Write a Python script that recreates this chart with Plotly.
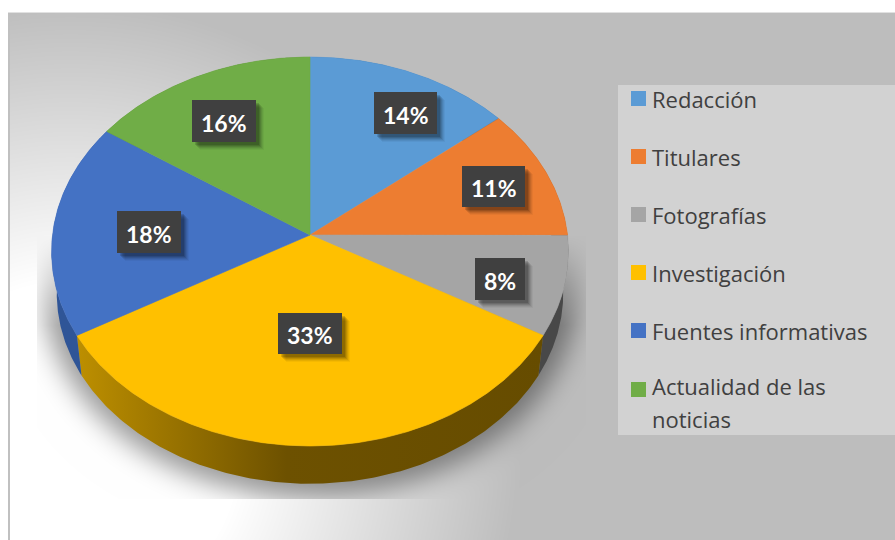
import base64, struct, zlib
import numpy as np
import plotly.graph_objects as go

# ---------- data ----------
categories = ["Redacción", "Titulares", "Fotografías", "Investigación",
              "Fuentes informativas", "Actualidad de las<br>noticias"]
shares = [14.0, 11.0, 8.3, 33.4, 17.8, 15.5]
top_colors = ["#5b9bd5", "#ed7d31", "#a5a5a5", "#ffc000", "#4472c4", "#70ad47"]
side_stops = [
    [[0, "#2f6a9c"], [1, "#2f6a9c"]],
    [[0, "#9a4f1c"], [1, "#9a4f1c"]],
    [[0, "#484848"], [1, "#484848"]],
    [[0, "#bd8f00"], [0.45, "#6d5100"], [1, "#664c00"]],
    [[0, "#2f5597"], [1, "#2f5597"]],
    [[0, "#4c7530"], [1, "#4c7530"]],
]

# ---------- layout constants (pixel coordinates of the 895x540 canvas) ----------
W, H = 895, 540
CX, CY = 310, 235
RX, RY, K = 257.5, 193.1, 0.0848
DEPTH, REAR_SCALE = 42, 0.98
label_centers = [(405.5, 113), (493.5, 186.5), (500, 279), (310, 333.5), (149, 232), (224, 121)]
label_sizes = [(63, 42), (63, 41), (50, 42), (64, 41), (64, 42), (64, 42)]
legend_rows = [98.5, 156.5, 214.5, 272.5, 330.5, 389.5]
legend_text_rows = [99, 156.5, 214.5, 272.5, 330.5, 386]
LINE_STEP = 33
LEG_FONT = 22


def project(theta):
    """Clockwise angle from 12 o'clock -> pixel position on the tilted disc."""
    sx, cy = np.sin(theta), np.cos(theta)
    w = 1 + K * cy
    return CX + RX * sx / w, CY - RY * cy / w


# ---------- background bitmap (gradient + soft shadow) ----------
def blur(a, sigma):
    r = int(3 * sigma)
    k = np.exp(-0.5 * (np.arange(-r, r + 1) / sigma) ** 2)
    k /= k.sum()
    a = np.apply_along_axis(lambda m: np.convolve(m, k, mode="same"), 0, a)
    return np.apply_along_axis(lambda m: np.convolve(m, k, mode="same"), 1, a)


yy, xx = np.mgrid[0:H, 0:W].astype(float)
dist = np.hypot(xx - 70, yy - 450)
t = np.clip((dist - 170) / 280, 0, 1)
bg = 255 - t * (255 - 189)
sil = (((xx - 310) / 268) ** 2 + ((yy - 285) / 212) ** 2 <= 1).astype(float)
shadow = blur(sil, 13) * 0.40
shadow *= np.clip((yy - 235) / 90, 0, 1)
shadow[(xx < 37) | (xx > 585) | (yy > 498)] = 0
bg = bg * (1 - shadow)
bg[:12, :] = 255
bg[:, :8] = 255
bg[12:, 8:10] = 192
bg[12:13, 8:] = 225
gray = bg.astype(np.uint8)


def png_uri(a):
    def chunk(tag, data):
        body = tag + data
        return struct.pack(">I", len(data)) + body + struct.pack(">I", zlib.crc32(body))
    raw = b"".join(b"\x00" + a[i].tobytes() for i in range(a.shape[0]))
    png = (b"\x89PNG\r\n\x1a\n"
           + chunk(b"IHDR", struct.pack(">IIBBBBB", a.shape[1], a.shape[0], 8, 0, 0, 0, 0))
           + chunk(b"IDAT", zlib.compress(raw, 9))
           + chunk(b"IEND", b""))
    return "data:image/png;base64," + base64.b64encode(png).decode()


# ---------- figure ----------
fig = go.Figure()
total = sum(shares)
edges = np.cumsum([0] + shares) / total * 2 * np.pi

# side wall
for i, stops in enumerate(side_stops):
    th = np.linspace(edges[i], edges[i + 1], 160)
    x, y = project(th)
    xb = CX + (x - CX) * REAR_SCALE
    yb = CY + (y - CY) * REAR_SCALE + DEPTH
    kw = dict(fillgradient=dict(type="horizontal", colorscale=stops)) if len(stops) > 2 else dict(fillcolor=stops[0][1])
    fig.add_trace(go.Scatter(x=np.r_[x, xb[::-1]], y=np.r_[y, yb[::-1]], mode="lines", fill="toself",
                             line=dict(width=0), hoverinfo="skip", showlegend=False, **kw))

# top face
for i, color in enumerate(top_colors):
    th = np.linspace(edges[i], edges[i + 1], 240)
    x, y = project(th)
    fig.add_trace(go.Scatter(x=np.r_[CX, x, CX], y=np.r_[CY, y, CY], mode="lines", fill="toself",
                             fillcolor=color, line=dict(width=0.6, color=color),
                             name=categories[i].replace("<br>", " "),
                             hovertemplate="%{fullData.name}<extra></extra>", showlegend=False))

# legend swatches
fig.add_trace(go.Scatter(x=[638.5] * len(categories), y=legend_rows, mode="markers",
                         marker=dict(symbol="square", size=15, color=top_colors, line=dict(width=0)),
                         hoverinfo="skip", showlegend=False))

shapes = [dict(type="rect", xref="x", yref="y", x0=618, x1=895, y0=85, y1=435,
               fillcolor="#d2d2d2", line=dict(width=0), layer="below")]
annotations = []

for name, row in zip(categories, legend_text_rows):
    for j, line in enumerate(name.split("<br>")):
        annotations.append(dict(x=650, y=row + j * LINE_STEP, xref="x", yref="y", text=line, showarrow=False,
                                xanchor="left", yanchor="middle", align="left",
                                font=dict(family="Open Sans", size=LEG_FONT, color="#404040")))

for v, (cx, cy), (bw, bh) in zip(shares, label_centers, label_sizes):
    for off, op in ((8, 0.04), (7, 0.06), (6, 0.08), (5, 0.10), (4, 0.12), (3, 0.14)):
        shapes.append(dict(type="rect", xref="x", yref="y", layer="above", line=dict(width=0),
                           x0=cx - bw / 2 + off, x1=cx + bw / 2 + off,
                           y0=cy - bh / 2 + off, y1=cy + bh / 2 + off,
                           fillcolor="black", opacity=op))
    shapes.append(dict(type="rect", xref="x", yref="y", layer="above", line=dict(width=0),
                       x0=cx - bw / 2, x1=cx + bw / 2, y0=cy - bh / 2, y1=cy + bh / 2, fillcolor="#404040"))
    annotations.append(dict(x=cx, y=cy + 1.5, xref="x", yref="y", text=f"<b>{round(v / total * 100)}%</b>",
                            showarrow=False, xanchor="center", yanchor="middle", align="center",
                            font=dict(family="Lato", size=23, color="white")))

fig.update_layout(
    width=W, height=H, margin=dict(l=0, r=0, t=0, b=0),
    paper_bgcolor="white", plot_bgcolor="rgba(0,0,0,0)", showlegend=False,
    xaxis=dict(range=[0, W], visible=False, fixedrange=True),
    yaxis=dict(range=[H, 0], visible=False, fixedrange=True),
    images=[dict(source=png_uri(gray), xref="paper", yref="paper", x=0, y=1, sizex=1, sizey=1,
                 sizing="stretch", xanchor="left", yanchor="top", layer="below")],
    shapes=shapes, annotations=annotations,
)

fig.write_html("out.html", config=dict(displayModeBar=False),
               post_script="document.body.style.margin='0';document.body.style.overflow='hidden';")
